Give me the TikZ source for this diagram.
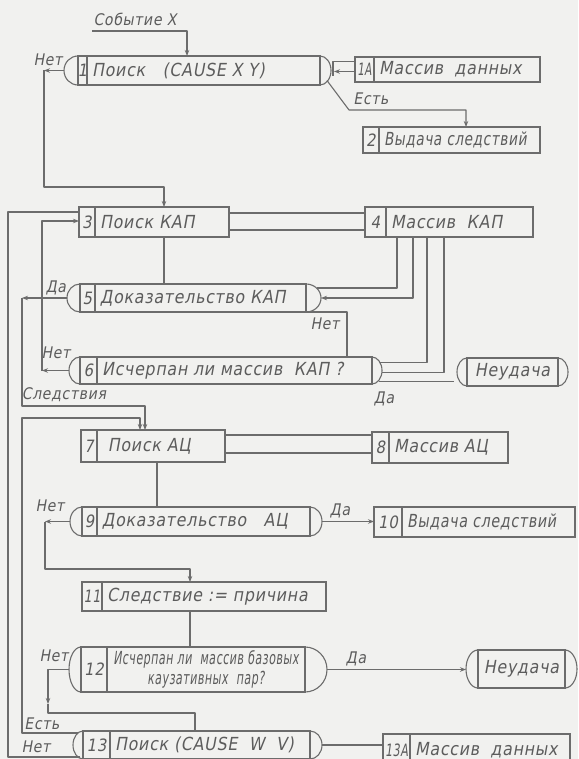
\documentclass[tikz,border=0pt]{standalone}
\usepackage{fontspec}
\usepackage{graphicx}
\setmainfont{DejaVu Sans}[FakeStretch=0.88, FakeSlant=0.18, LetterSpace=4]
\usetikzlibrary{arrows.meta,calc}
\definecolor{bgc}{RGB}{241,241,239}
\definecolor{lnc}{RGB}{108,108,108}
\definecolor{txc}{RGB}{92,92,92}
\tikzset{
  ln/.style={draw=lnc, line width=1.1pt, line join=round},
  ar/.style={ln, -{Stealth[length=6pt,width=4.5pt]}},
  bx/.style={draw=lnc, line width=1.2pt, inner sep=0pt, outer sep=0pt, rectangle},
  txt/.style={text=txc, font=\fontsize{18}{20}\selectfont, inner sep=0pt},
  numt/.style={text=txc, font=\fontsize{17}{19}\selectfont, inner sep=0pt},
  lbl/.style={text=txc, font=\fontsize{16}{18}\selectfont, inner sep=0pt},
}
\newcommand{\rshape}[5]{\node[bx, minimum width=#4pt, minimum height=#5pt, anchor=north west] (#1) at (#2pt,-#3pt) {};}
\newcommand{\dshape}[7]{%
  \rshape{#1}{#2}{#3}{#4}{#5}
  \draw[ln] (#1.north west) arc[start angle=90, end angle=270, x radius=#6pt, y radius=#5pt/2];
  \draw[ln] (#1.north east) arc[start angle=90, end angle=-90, x radius=#7pt, y radius=#5pt/2];
  \coordinate (#1L) at ([xshift=-#6pt]#1.west);
  \coordinate (#1R) at ([xshift=#7pt]#1.east);
}
\newcommand{\numtext}[4]{%
  \draw[ln] ([xshift=#2pt]#1.north west) -- ([xshift=#2pt]#1.south west);
  \node[numt] (#1n) at ([xshift=#2pt/2]#1.west) {#3};
  \node[txt, anchor=west] (#1t) at ([xshift=#2pt+5pt]#1.west) {#4};
}
\newcommand{\nar}[2]{\scalebox{#1}[1]{#2}}
\begin{document}
\begin{tikzpicture}[x=1pt,y=1pt]
\useasboundingbox (0,0) rectangle (578,-759);
\fill[bgc] (0,0) rectangle (578,-759);
\clip (0,0) rectangle (578,-759);

% ---------- boxes ----------
\dshape{b1}{78}{56}{242}{29}{14}{11}
\numtext{b1}{9}{1}{Поиск\ \ \ (CAUSE\ X\ Y)}
\rshape{b1A}{355}{57}{185}{25}
\numtext{b1A}{19}{\nar{0.7}{1А}}{Массив\ \ данных}
\rshape{b2}{363}{127}{177}{26}
\numtext{b2}{16}{2}{\nar{0.86}{Выдача следствий}}

\rshape{b3}{79}{207}{150}{30}
\numtext{b3}{16}{3}{Поиск КАП}
\rshape{b4}{365}{207}{168}{30}
\numtext{b4}{21}{4}{Массив\ \ КАП}

\dshape{b5}{80}{284}{226}{28}{13}{15}
\numtext{b5}{15}{5}{Доказательство\ КАП}
\dshape{b6}{80}{357}{292}{27}{11}{10}
\numtext{b6}{17}{6}{Исчерпан ли массив\ \ КАП ?}
\dshape{f1}{467}{358}{91}{28}{10}{10}
\node[txt] (f1t) at (f1) {Неудача};

\rshape{b7}{81}{430}{144}{32}
\numtext{b7}{16}{7}{\ Поиск АЦ}
\rshape{b8}{372}{432}{136}{31}
\numtext{b8}{17}{8}{Массив АЦ}

\dshape{b9}{82}{507}{228}{29}{12}{12}
\numtext{b9}{15}{9}{Доказательство\ \ \ АЦ}
\rshape{b10}{374}{507}{201}{30}
\numtext{b10}{28}{10}{\nar{0.9}{Выдача следствий}}

\rshape{b11}{82}{582}{244}{29}
\numtext{b11}{20}{\nar{0.85}{11}}{Следствие := причина}

\dshape{b12}{81}{647}{224}{45}{12}{22}
\draw[ln] ([xshift=26pt]b12.north west) -- ([xshift=26pt]b12.south west);
\node[numt] (b12n) at ([xshift=13pt]b12.west) {12};
\node[txt, align=center] (b12t) at ([xshift=125pt]b12.west)
  {\nar{0.7}{Исчерпан ли\ \ массив базовых}\\\nar{0.7}{каузативных\ \ пар?}};
\dshape{f2}{478}{650}{87}{38}{12}{12}
\node[txt] (f2t) at (f2) {Неудача};

\dshape{b13}{83}{731}{227}{28}{10}{12}
\numtext{b13}{27}{13}{Поиск (CAUSE\ \ W\ \ V)}
\rshape{b13A}{383}{734}{187}{32}
\numtext{b13A}{27}{\nar{0.75}{13А}}{Массив\ \ данных}

% ---------- labels ----------
\node[lbl] (lev) at (135,-19) {Событие X};
\node[lbl] (l1) at (48,-60) {Нет};
\node[lbl] (l2) at (371,-99) {Есть};
\node[lbl] (l3) at (56,-288) {Да};
\node[lbl] (l4) at (325,-324) {Нет};
\node[lbl] (l5) at (56,-353) {Нет};
\node[lbl] (l6) at (384,-399) {Да};
\node[lbl] (l7) at (64,-395) {Следствия};
\node[lbl] (l8) at (50,-506) {Нет};
\node[lbl] (l9) at (340,-511) {Да};
\node[lbl] (l10) at (54,-656) {Нет};
\node[lbl] (l11) at (356,-659) {Да};
\node[lbl] (l12) at (42,-724) {Есть};
\node[lbl] (l13) at (36,-747) {Нет};

% ---------- connectors ----------
% event X -> 1
\coordinate (e1) at (92,-31);
\draw[ar] (e1) -| ([xshift=109pt]b1.north west);
% 1 <-> 1A
\draw[ln] ([yshift=8pt]b1A.west) -| ([xshift=2pt,yshift=-6pt]b1R);
\draw[ar] ([yshift=-2pt]b1A.west) -- ([xshift=3pt,yshift=-1pt]b1R);
% 1 Есть -> 2
\draw[ar] ([xshift=-4pt,yshift=-10pt]b1R) -- (349,-110) -| ([xshift=103pt]b2.north west);
% 1 Нет -> 3
\coordinate (k1) at (44,-70.5);
\draw[ar] (b1L) -- (k1);
\draw[ar] (k1) |- (100,-187) -| ([xshift=85pt]b3.north west);
% 3 <-> 4
\draw[ln] ([yshift=9pt]b3.east) -- ([yshift=9pt]b3.east -| b4.west);
\draw[ln] ([yshift=-8pt]b3.east) -- ([yshift=-8pt]b3.east -| b4.west);
% 3 -> 5
\draw[ln] ([xshift=85pt]b3.south west) -- ([xshift=85pt]b3.south west |- b5.north);
% 4 -> 5, 4 -> 6
\draw[ln] ([xshift=32pt]b4.south west) |- ([xshift=-4pt,yshift=10pt]b5R);
\draw[ar] ([xshift=48pt]b4.south west) |- (b5R);
\draw[ln] ([xshift=62pt]b4.south west) |- ([xshift=-2pt,yshift=8pt]b6R);
\draw[ln] ([xshift=79pt]b4.south west) |- ([yshift=-2pt]b6R);
% 5 Нет -> 6
\draw[ln] (b5.south east) -| ([xshift=267pt]b6.north west);
% 6 Да -> Неудача
\draw[ln] ([xshift=-3pt,yshift=-11pt]b6R) -- ([xshift=-3pt,yshift=-11pt]b6R -| f1L);
% 6 Нет -> 3
\coordinate (k2) at (42,-370.5);
\draw[ar] (b6L) -- (k2);
\draw[ar] (k2) |- ([yshift=1pt]b3.west);
% 5 Да -> 7
\coordinate (k3) at (22,-298);
\draw[ar] (b5L) -- (k3);
\draw[ar] (k3) |- (100,-406) -| ([xshift=64pt]b7.north west);
% 13 Есть -> 7
\draw[ar] ([xshift=5pt,yshift=12pt]b13L) -| (22,-418) -| ([xshift=59pt]b7.north west);
% 13 Нет -> 3
\coordinate (k4) at (8,-212);
\draw[ln] ([xshift=7pt,yshift=-12pt]b13L) -| (k4) -- (k4 -| b3.west);
% 7 <-> 8
\draw[ln] ([yshift=11pt]b7.east) -- ([yshift=11pt]b7.east -| b8.west);
\draw[ln] ([yshift=-7pt]b7.east) -- ([yshift=-7pt]b7.east -| b8.west);
% 7 -> 9
\draw[ln] ([xshift=76pt]b7.south west) -- ([xshift=76pt]b7.south west |- b9.north);
% 9 Да -> 10
\draw[ar] (b9R) -- (b9R -| b10.west);
% 9 Нет -> 11
\coordinate (k5) at (45,-521.5);
\draw[ar] (b9L) -- (k5);
\draw[ar] (k5) |- (100,-569) -| ([xshift=108pt]b11.north west);
% 11 -> 12
\draw[ln] ([xshift=108pt]b11.south west) -- ([xshift=108pt]b11.south west |- b12.north);
% 12 Да -> Неудача
\draw[ar] (b12R) -- (b12R -| f2L);
% 12 Нет -> 13
\coordinate (k6) at (48,-669.5);
\coordinate (k7) at (48,-704);
\draw[ar] (b12L) -- (k6) -- (k7);
\draw[ln] (k7) |- ([xshift=112pt,yshift=18pt]b13.north west) -- ([xshift=112pt]b13.north west);
% 13 -> 13A
\draw[ln] (b13R) -- (b13R -| b13A.west);
\end{tikzpicture}
\end{document}
